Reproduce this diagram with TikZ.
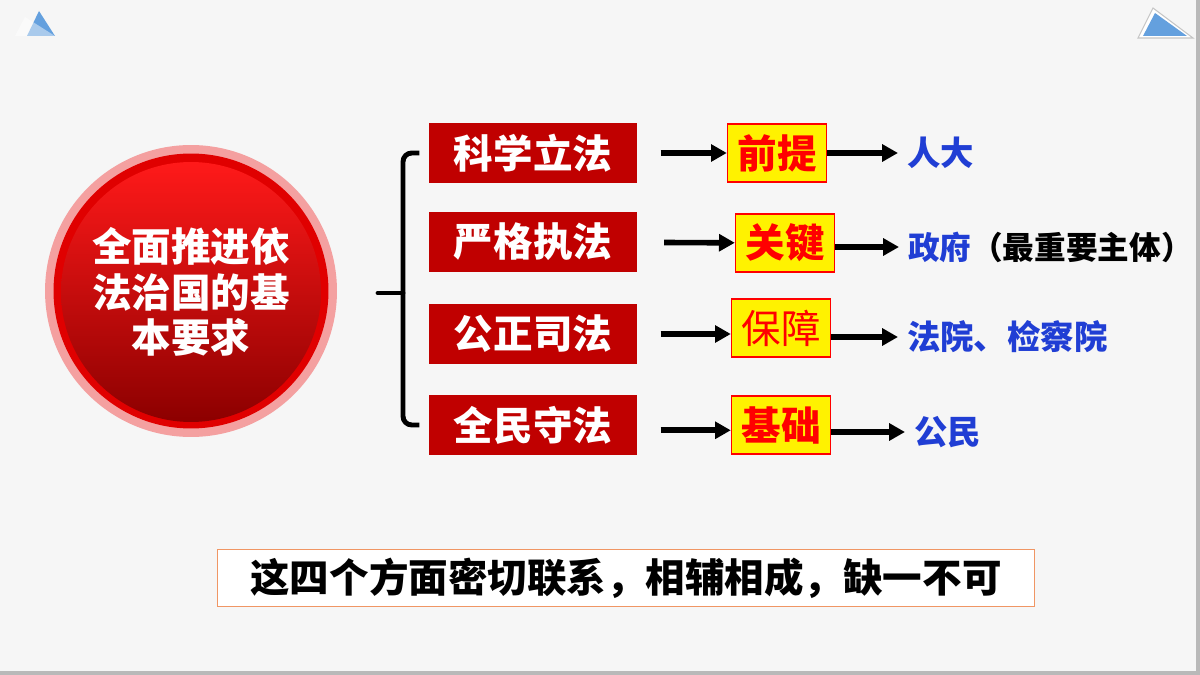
\documentclass[tikz,border=0pt]{standalone}
\usepackage{fontspec}
\newfontfamily\cjk{Noto Sans CJK SC}
\usetikzlibrary{arrows.meta}

\definecolor{paper}{RGB}{246,246,246}
\definecolor{lawred}{RGB}{192,0,0}
\definecolor{keyred}{RGB}{255,0,0}
\definecolor{whoblue}{RGB}{32,62,212}
\definecolor{ringpink}{RGB}{244,160,160}
\definecolor{noteline}{RGB}{240,150,100}
\definecolor{skyblue}{RGB}{100,160,222}

\begin{document}
\begin{tikzpicture}[x=0.02cm, y=-0.02cm,
    lawbox/.style={fill=lawred, text=white, minimum width=4.18cm, minimum height=1.22cm,
        font=\cjk\bfseries\fontsize{22.5}{26}\selectfont},
    keybox/.style={draw=keyred, line width=0.8pt, fill=yellow, text=keyred,
        minimum width=1.98cm, minimum height=1.16cm, inner sep=1pt,
        font=\cjk\bfseries\fontsize{22.5}{26}\selectfont},
    who/.style={anchor=west, inner sep=1pt, text=whoblue,
        font=\cjk\bfseries\fontsize{19}{24}\selectfont},
    arr/.style={line width=3.2pt, -{Triangle[length=9pt, width=9.5pt]}}]

    \useasboundingbox (0,0) rectangle (1200,675);

    % page
    \fill[paper] (0,0) rectangle (1196,671);
    \fill[gray!55] (1196,0) rectangle (1200,675);
    \fill[gray!55] (0,671) rectangle (1200,675);

    % corner marks
    \fill[skyblue] (27,36) -- (39,11) -- (55,36) -- cycle;
    \fill[white, opacity=0.45] (15,36) -- (25,17) -- (55,36) -- cycle;
    \filldraw[draw=gray!45, fill=white, line width=0.6pt] (1138,38) -- (1153,8) -- (1193,38) -- cycle;
    \fill[skyblue] (1143,36) -- (1155,13) -- (1187,36) -- cycle;

    % circle
    \node(ring)[circle, fill=ringpink, minimum size=5.84cm] at (191,291) {};
    \node(disc)[circle, fill=red!88!black, minimum size=5.5cm] at (191,291) {};
    \node(goal)[circle, top color=red!90!white, bottom color=red!55!black, minimum size=5.2cm,
        text=white, align=center, font=\cjk\bfseries\fontsize{22.5}{26}\selectfont]
        at (191,292) {全面推进依\\法治国的基\\本要求};

    % four laws
    \node(law1)[lawbox] at (533,153) {科学立法};
    \node(law2)[lawbox] at (533,242) {严格执法};
    \node(law3)[lawbox] at (533,334) {公正司法};
    \node(law4)[lawbox] at (533,425) {全民守法};

    % brace
    \coordinate(mid) at (403,293);
    \draw[line width=2.8pt, rounded corners=5pt] ([xshift=-5pt]law1.west) -| (mid) |- ([xshift=-5pt]law4.west);
    \draw[line width=2.8pt, line cap=round] (mid) -- (378,293);

    % roles
    \node(key1)[keybox] at (777,153) {前提};
    \node(key2)[keybox] at (785,243) {关键};
    \node(key3)[keybox, font=\cjk\fontsize{22.5}{26}\selectfont] at (781,328) {保障};
    \node(key4)[keybox] at (781,425) {基础};

    % bodies
    \node(who1)[who] at (905,153) {人大};
    \node(who2)[who, font=\cjk\bfseries\fontsize{18}{24}\selectfont] at (906,247)
        {政府\textcolor{black}{（最重要主体）}};
    \node(who3)[who] at (905,337) {法院、检察院};
    \node(who4)[who] at (912,432) {公民};

    \draw[arr, shorten <=13pt] (law1) -- (key1);
    \draw[arr, shorten <=15pt] (law2) -- (key2);
    \draw[arr, shorten <=13pt] (law3) -- (key3.west |- law3);
    \draw[arr, shorten <=13pt] ([yshift=-3pt]law4.east) -- ([yshift=-3pt]key4.west);

    \draw[arr, shorten >=4pt] (key1) -- (who1);
    \draw[arr, shorten >=4pt] (key2.east |- who2.west) -- (who2);
    \draw[arr, shorten >=4pt] (key3.east |- who3.west) -- (who3);
    \draw[arr, shorten >=4pt] (key4.east |- who4.west) -- (who4);

    % summary
    \node(note)[draw=noteline, line width=0.8pt, fill=white, minimum width=16.34cm, minimum height=1.14cm,
        font=\cjk\bfseries\fontsize{22.5}{26}\selectfont] at (626,578) {这四个方面密切联系，相辅相成，缺一不可};
\end{tikzpicture}
\end{document}
